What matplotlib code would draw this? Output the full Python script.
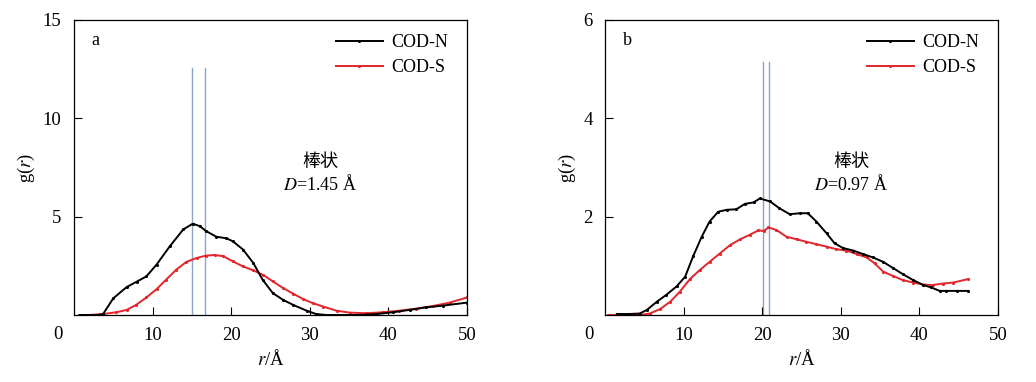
import matplotlib
matplotlib.use("Agg")
import matplotlib.pyplot as plt

plt.rcParams['font.family'] = ['Liberation Serif', 'Noto Sans CJK SC', 'DejaVu Sans']
plt.rcParams['mathtext.fontset'] = 'stix'

# Panel a
a_n_r = [0.7, 2.0, 3.0, 3.7, 5.0, 6.7, 8.0, 9.2, 10.5, 12.2, 13.9, 15.1, 16.0, 16.8, 18.1, 19.4, 20.2, 21.5,
         22.8, 24.0, 25.3, 26.6, 27.9, 29.6, 30.8, 32.1, 34.2, 36.3, 38.5, 40.6, 42.7, 44.8, 47.0, 50.0]
a_n_g = [0.0, 0.0, 0.0, 0.05, 0.85, 1.42, 1.70, 1.96, 2.56, 3.5, 4.35, 4.64, 4.52, 4.27, 3.98, 3.9, 3.75, 3.33,
         2.65, 1.79, 1.11, 0.77, 0.51, 0.22, 0.05, 0.0, 0.0, 0.0, 0.05, 0.14, 0.26, 0.39, 0.48, 0.63]
a_s_r = [0.7, 2.0, 3.7, 5.4, 6.7, 7.9, 9.2, 10.5, 11.7, 13.0, 14.3, 15.6, 16.8, 17.9, 19.0, 20.2, 21.5, 22.8,
         24.0, 25.3, 26.6, 27.9, 29.1, 30.4, 31.7, 33.4, 35.1, 37.2, 39.3, 41.4, 43.5, 45.7, 47.8, 50.0]
a_s_g = [0.0, 0.0, 0.05, 0.14, 0.26, 0.51, 0.89, 1.31, 1.79, 2.3, 2.7, 2.9, 3.02, 3.05, 2.99, 2.73, 2.47, 2.27,
         2.05, 1.71, 1.37, 1.08, 0.82, 0.6, 0.43, 0.22, 0.12, 0.09, 0.14, 0.22, 0.32, 0.46, 0.63, 0.89]
a_vlines = [15.0, 16.7]

# Panel b
b_n_r = [1.5, 3.0, 4.4, 5.3, 6.6, 7.8, 9.1, 10.2, 11.2, 12.3, 13.3, 14.4, 15.5, 16.7, 17.8, 18.9, 19.7, 21.0,
         22.2, 23.5, 24.8, 25.8, 26.9, 28.2, 29.2, 30.3, 31.6, 32.8, 34.1, 35.4, 36.7, 37.9, 39.2, 40.5, 41.5,
         42.6, 43.4, 44.8, 46.2]
b_n_g = [0.02, 0.02, 0.03, 0.1, 0.27, 0.41, 0.58, 0.78, 1.19, 1.59, 1.9, 2.1, 2.14, 2.15, 2.26, 2.29, 2.37, 2.31,
         2.17, 2.05, 2.07, 2.07, 1.9, 1.66, 1.46, 1.36, 1.31, 1.24, 1.17, 1.08, 0.95, 0.83, 0.71, 0.61, 0.56,
         0.49, 0.49, 0.49, 0.49]
b_s_r = [0.4, 2.0, 4.4, 5.7, 7.0, 8.3, 9.5, 10.8, 12.1, 13.3, 14.6, 15.9, 17.2, 18.4, 19.5, 20.2, 20.8, 21.8,
         23.1, 24.4, 25.6, 26.9, 28.2, 29.4, 30.7, 32.0, 33.3, 34.3, 35.4, 36.7, 37.9, 39.2, 40.5, 41.7, 43.0,
         44.3, 46.2]
b_s_g = [0.0, 0.0, 0.0, 0.03, 0.12, 0.27, 0.47, 0.73, 0.92, 1.08, 1.25, 1.42, 1.54, 1.63, 1.72, 1.71, 1.78, 1.73,
         1.59, 1.54, 1.49, 1.44, 1.39, 1.34, 1.31, 1.24, 1.17, 1.05, 0.88, 0.79, 0.71, 0.66, 0.62, 0.61, 0.64,
         0.66, 0.73]
b_vlines = [20.1, 20.9]

series_labels = ['COD-N', 'COD-S']
colors = ['black', '#e3262b']
vline_color = '#8aa6c6'

fig = plt.figure(figsize=(10.36, 3.82), dpi=100)
W, H = 1036, 382
ax_a = fig.add_axes([74 / W, 1 - 315 / H, 393 / W, 295 / H])
ax_b = fig.add_axes([605 / W, 1 - 315 / H, 393 / W, 295 / H])

panels = [
    (ax_a, a_n_r, a_n_g, a_s_r, a_s_g, a_vlines, 12.55, 15, [5, 10, 15], 'a', 'D=1.45 Å'),
    (ax_b, b_n_r, b_n_g, b_s_r, b_s_g, b_vlines, 5.15, 6, [2, 4, 6], 'b', 'D=0.97 Å'),
]

for ax, nr, ng, sr, sg, vl, vtop, ymax, yt, tag, dtext in panels:
    for x in vl:
        ax.plot([x, x], [0, vtop], color=vline_color, lw=1.0, zorder=1)
    ax.plot(nr, ng, color=colors[0], lw=1.4, marker='.', ms=2.5, label=series_labels[0], zorder=3)
    ax.plot(sr, sg, color=colors[1], lw=1.4, marker='.', ms=2.5, label=series_labels[1], zorder=2)
    ax.set_xlim(0, 50)
    ax.set_ylim(0, ymax)
    ax.set_xticks([10, 20, 30, 40, 50])
    ax.set_yticks(yt)
    ax.tick_params(direction='in', length=6, width=0.8, labelsize=13.5, top=False, right=False, pad=9)
    for sp in ax.spines.values():
        sp.set_linewidth(0.9)
    ax.text(-0.04, -0.065, '0', transform=ax.transAxes, fontsize=13.5, ha='center', va='center')
    ax.set_xlabel('$r$/Å', fontsize=13.5, labelpad=3)
    ax.set_ylabel('g($r$)', fontsize=13.5, labelpad=4)
    ax.text(0.045, 0.93, tag, transform=ax.transAxes, fontsize=13, ha='left', va='center')
    ax.text(31.3, 0.52 * ymax, '棒状', fontsize=13, ha='center', va='center',
            family=['Noto Sans CJK SC'])
    ax.text(31.3, 0.443 * ymax, '$D$' + dtext[1:], fontsize=13, ha='center', va='center')
    leg = ax.legend(loc='upper right', frameon=False, fontsize=13, handlelength=2.6,
                    markerscale=1.0, borderaxespad=0.3, labelspacing=0.45, handletextpad=0.5,
                    bbox_to_anchor=(0.985, 0.995))

fig.savefig('out.png', dpi=100)
